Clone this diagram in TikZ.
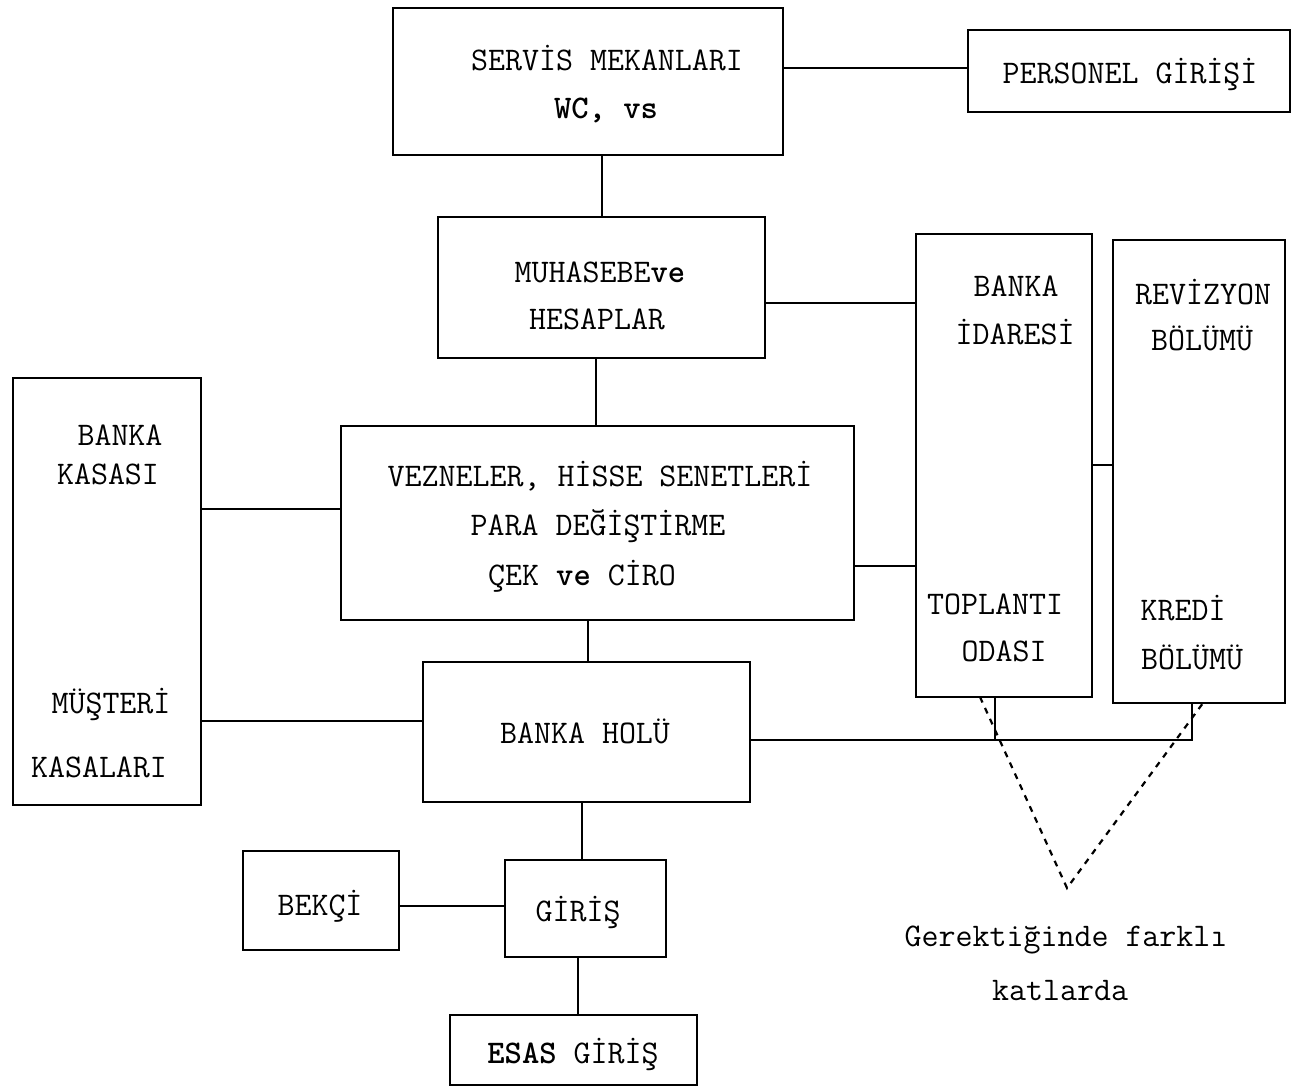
\documentclass[tikz,border=0pt]{standalone}
\usepackage{fontspec}
\usetikzlibrary{fit}
\begin{document}
\begin{tikzpicture}[x=0.5pt,y=-0.5pt,
  box/.style={draw, line width=1.3pt, inner sep=0pt},
  lbl/.style={inner sep=0pt, font=\ttfamily\fontsize{16.5}{20}\selectfont},
  link/.style={line width=1.3pt},
  dots/.style={line width=1.1pt, dash pattern=on 3pt off 3pt}]
\useasboundingbox (0,0) rectangle (1309,1089);
% boxes
\node[box, fit={(393,8) (783,155)}] (servis) {};
\node[box, fit={(968,30) (1290,112)}] (personel) {};
\node[box, fit={(438,217) (765,358)}] (muh) {};
\node[box, fit={(916,234) (1092,697)}] (idare) {};
\node[box, fit={(1113,240) (1285,703)}] (rev) {};
\node[box, fit={(13,378) (201,805)}] (kasa) {};
\node[box, fit={(341,426) (854,620)}] (vezne) {};
\node[box, fit={(423,662) (750,802)}] (holu) {};
\node[box, fit={(243,851) (399,950)}] (bekci) {};
\node[box, fit={(505,860) (666,957)}] (giris) {};
\node[box, fit={(450,1015) (697,1085)}] (esas) {};
% labels
\node[lbl] (t1) at (607,58) {SERVİS MEKANLARI};
\node[lbl] (t2) at (606,110) {\bfseries WC, vs};
\node[lbl] (t3) at (1130,74) {PERSONEL GİRİŞİ};
\node[lbl] (t4) at (600,272) {MUHASEBE\textbf{ve}};
\node[lbl] (t5) at (597,319) {HESAPLAR};
\node[lbl] (t6) at (1016,286) {BANKA};
\node[lbl] (t7) at (1015,332) {İDARESİ};
\node[lbl] (t8) at (995,604) {TOPLANTI};
\node[lbl] (t9) at (1004,651) {ODASI};
\node[lbl] (t10) at (1203,292) {REVİZYON};
\node[lbl] (t11) at (1202,338) {BÖLÜMÜ};
\node[lbl] (t12) at (1183,608) {KREDİ};
\node[lbl] (t13) at (1192,657) {BÖLÜMÜ};
\node[lbl] (t14) at (120,435) {BANKA};
\node[lbl] (t15) at (108,474) {KASASI};
\node[lbl] (t16) at (111,704) {MÜŞTERİ};
\node[lbl] (t17) at (99,767) {KASALARI};
\node[lbl] (t18) at (600,476) {VEZNELER, HİSSE SENETLERİ};
\node[lbl] (t19) at (598,526) {PARA DEĞİŞTİRME};
\node[lbl] (t20) at (582,576) {ÇEK \textbf{ve} CİRO};
\node[lbl] (t21) at (585,731) {BANKA HOLÜ};
\node[lbl] (t22) at (320,906) {BEKÇİ};
\node[lbl] (t23) at (578,912) {GİRİŞ};
\node[lbl] (t24) at (573,1054) {\textbf{ESAS} GİRİŞ};
\node[lbl] (t25) at (1066,940) {Gerektiğinde farklı};
\node[lbl] (t26) at (1060,990) {katlarda};
% connector levels
\coordinate (ya) at (0,68);
\coordinate (yb) at (0,303);
\coordinate (yc) at (0,509);
\coordinate (yd) at (0,566);
\coordinate (ye) at (0,465);
\coordinate (yf) at (0,721);
\coordinate (yg) at (0,740);
\coordinate (yh) at (0,906);
\coordinate (xa) at (602,0);
\coordinate (xb) at (596,0);
\coordinate (xc) at (588,0);
\coordinate (xd) at (582,0);
\coordinate (xe) at (578,0);
\coordinate (xf) at (995,0);
\coordinate (xg) at (1192,0);
\coordinate (apex) at (1067,888);
\coordinate (dl) at (980,697);
\coordinate (dr) at (1203,703);
% connectors
\draw[link] (servis.east |- ya) -- (personel.west |- ya);
\draw[link] (servis.south -| xa) -- (muh.north -| xa);
\draw[link] (muh.east |- yb) -- (idare.west |- yb);
\draw[link] (muh.south -| xb) -- (vezne.north -| xb);
\draw[link] (kasa.east |- yc) -- (vezne.west |- yc);
\draw[link] (vezne.east |- yd) -- (idare.west |- yd);
\draw[link] (idare.east |- ye) -- (rev.west |- ye);
\draw[link] (vezne.south -| xc) -- (holu.north -| xc);
\draw[link] (kasa.east |- yf) -- (holu.west |- yf);
\draw[link] (holu.east |- yg) -- (xg |- yg) -- (rev.south -| xg);
\draw[link] (idare.south -| xf) -- (xf |- yg);
\draw[link] (holu.south -| xd) -- (giris.north -| xd);
\draw[link] (bekci.east |- yh) -- (giris.west |- yh);
\draw[link] (giris.south -| xe) -- (esas.north -| xe);
\draw[dots] (dl) -- (apex) -- (dr);
\end{tikzpicture}
\end{document}
